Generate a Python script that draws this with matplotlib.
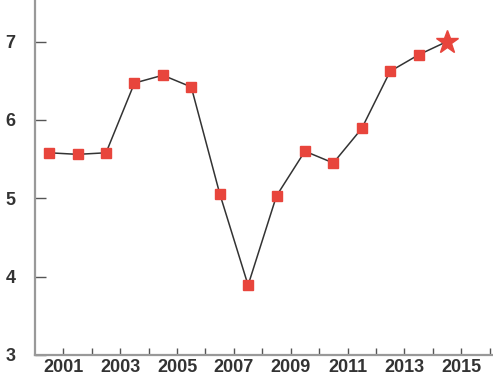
import matplotlib
matplotlib.use("Agg")
import matplotlib.pyplot as plt

years = [2000.5, 2001.5, 2002.5, 2003.5, 2004.5, 2005.5, 2006.5, 2007.5,
         2008.5, 2009.5, 2010.5, 2011.5, 2012.5, 2013.5, 2014.5]
values = [5.58, 5.56, 5.58, 6.47, 6.57, 6.42, 5.06, 3.89,
          5.03, 5.60, 5.45, 5.89, 6.62, 6.83, 7.00]
xtick_labels = ["2001", "2003", "2005", "2007", "2009", "2011", "2013", "2015"]
yticks = [3, 4, 5, 6, 7]

plt.rcParams['font.family'] = ['Liberation Sans', 'DejaVu Sans']

fig = plt.figure(figsize=(4.93, 3.78), dpi=100)
ax = fig.add_axes([0.071, 0.061, 0.929, 0.939])

red = '#e8453c'
ax.plot(years, values, color='#333333', lw=1.1, zorder=2)
ax.plot(years[:-1], values[:-1], ls='none', marker='s', ms=7,
        mfc=red, mec=red, zorder=3)
ax.plot(years[-1:], values[-1:], ls='none', marker='*', ms=17,
        mfc=red, mec=red, zorder=3)

ax.set_xlim(2000, 2016.12)
ax.set_ylim(3, 7.53)

ax.set_xticks([int(l) for l in xtick_labels])
ax.set_xticklabels(xtick_labels)
ax.set_xticks(list(range(2001, 2017)), minor=True)
ax.set_yticks(yticks)
ax.set_yticklabels([str(v) for v in yticks])

for s in ['top', 'right']:
    ax.spines[s].set_visible(False)
for s in ['left', 'bottom']:
    ax.spines[s].set_color('#999999')
    ax.spines[s].set_linewidth(1.6)

ax.tick_params(axis='x', which='both', direction='in', length=5, width=1,
               color='#555555', labelsize=13, labelcolor='#333333', pad=3)
ax.tick_params(axis='y', direction='in', length=8, width=1, color='#555555',
               labelsize=13, labelcolor='#333333', pad=14)
for lab in ax.get_xticklabels() + ax.get_yticklabels():
    lab.set_fontweight('bold')

fig.savefig('out.png', dpi=100)
